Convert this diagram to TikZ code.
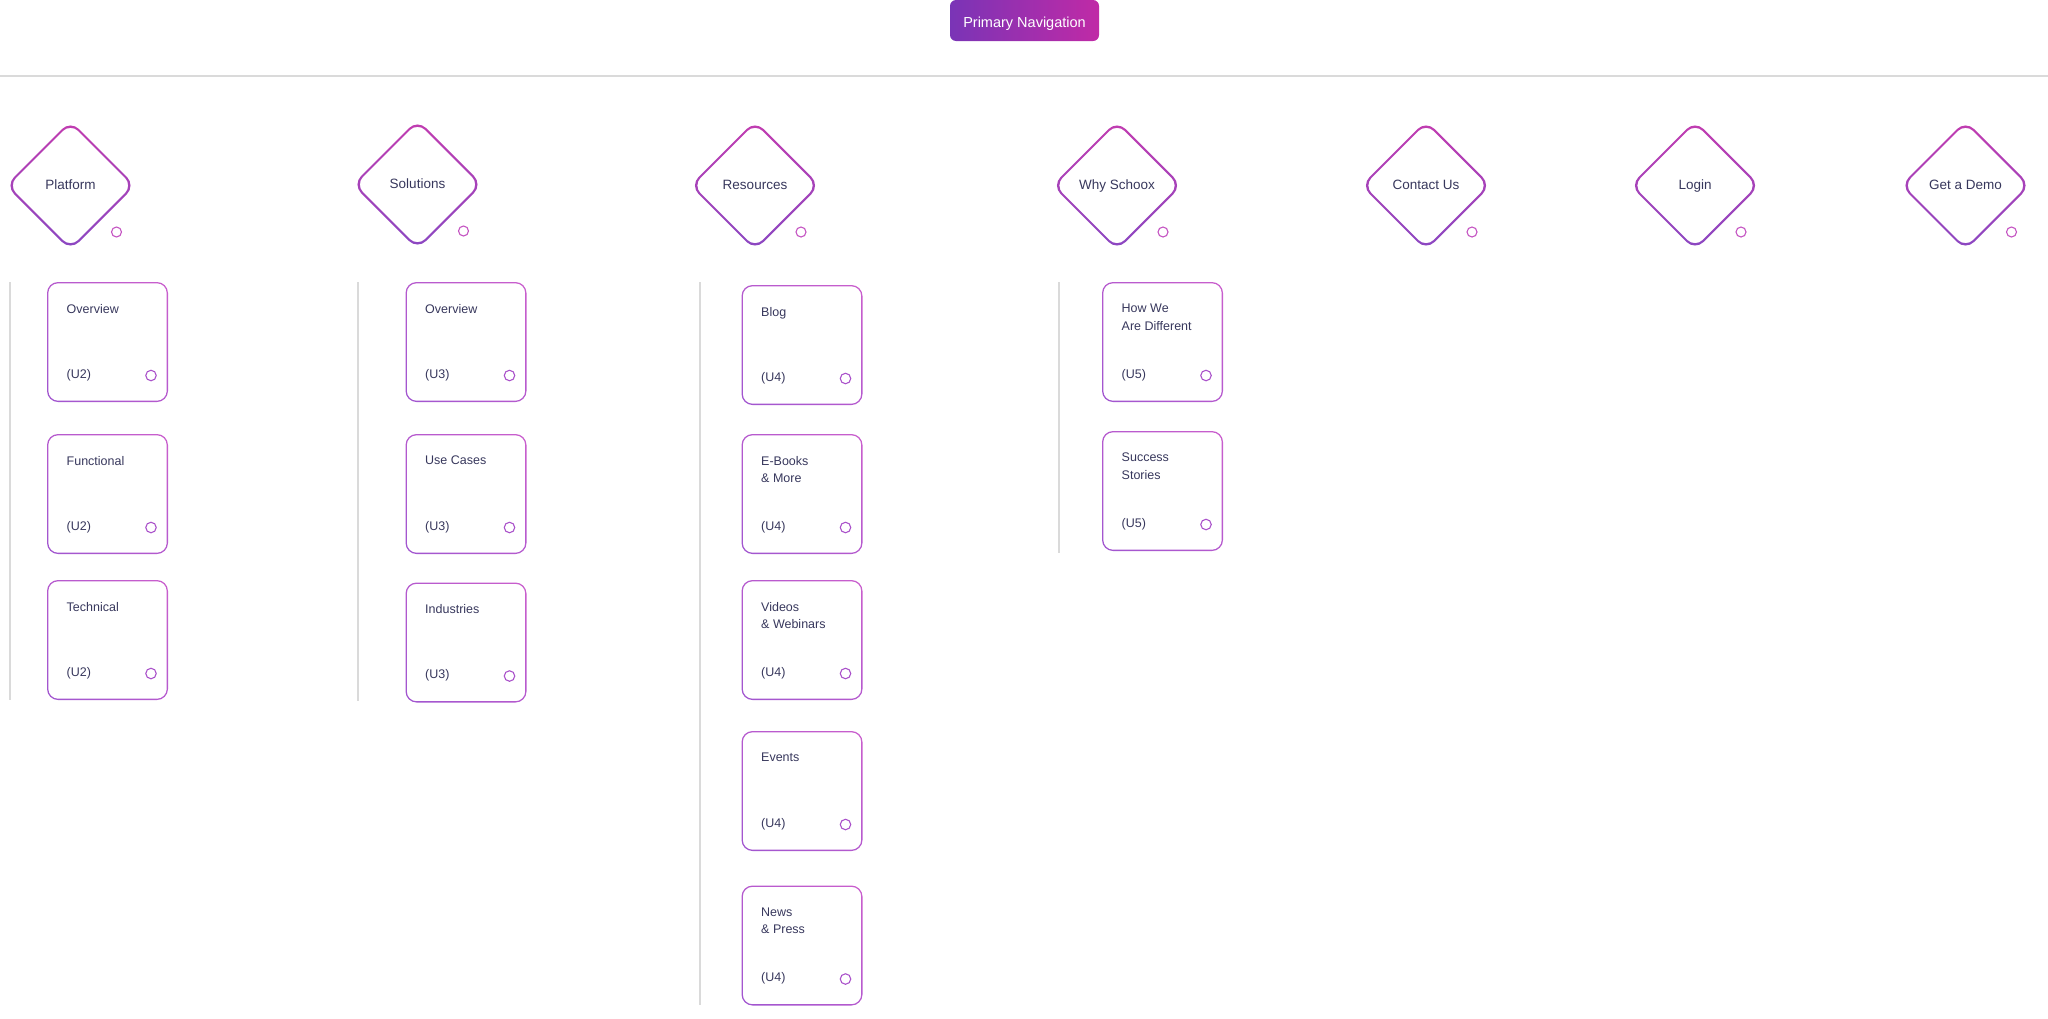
\documentclass[tikz,border=0pt]{standalone}
\usepackage{fontspec}
\setmainfont{Liberation Sans}
\usetikzlibrary{calc}
\definecolor{textc}{RGB}{55,55,92}
\definecolor{btnL}{RGB}{122,52,182}
\definecolor{btnR}{RGB}{192,42,166}
\definecolor{dTop}{RGB}{194,60,176}
\definecolor{dBot}{RGB}{138,72,194}
\definecolor{cardA}{RGB}{210,96,204}
\definecolor{cardB}{RGB}{152,84,208}
\definecolor{dotD}{RGB}{196,84,194}
\definecolor{dotC}{RGB}{170,82,202}
\definecolor{rule}{RGB}{218,218,218}
\pgfdeclarehorizontalshading{cardgrad}{100bp}{color(0bp)=(cardB); color(100bp)=(cardA)}
\tikzset{
  btn/.style={rounded corners=6pt, left color=btnL, right color=btnR,
    minimum width=149pt, minimum height=41pt, inner sep=0pt},
  btntext/.style={anchor=base, text=white, inner sep=0pt,
    font=\fontsize{14.5}{17}\selectfont},
  dtext/.style={text=textc, inner sep=0pt, text height=10.5pt, text depth=2pt,
    font=\fontsize{13.5}{16}\selectfont},
  card/.style={minimum width=121pt, minimum height=120pt, inner sep=0pt, outer sep=0pt},
  ctitle/.style={anchor=north west, align=left, text=textc, inner sep=0pt,
    font=\fontsize{12.5}{17.3}\selectfont},
  clabel/.style={anchor=base west, text=textc, inner sep=0pt,
    font=\fontsize{12.5}{15}\selectfont},
  cdot/.style={circle, draw=dotC, line width=1.1pt, minimum size=10.5pt, inner sep=0pt},
  ddot/.style={circle, draw=dotD, line width=1.1pt, minimum size=10pt, inner sep=0pt},
  sepline/.style={draw=rule, line width=2pt},
}
\newcommand\cardring[1]{%
  \shade[shading=cardgrad, shading angle=45, even odd rule]
    [rounded corners=11pt] (#1.north west) rectangle (#1.south east)
    [rounded corners=9.7pt] ($(#1.north west)+(1.3,1.3)$) rectangle ($(#1.south east)+(-1.3,-1.3)$);}
\newcommand\navcard[5]{%
  \node[card] (#1) at (#2,#3) {};
  \cardring{#1}
  \node[ctitle] (#1t) at ($(#1.north west)+(19.5,22)$) {#4};
  \node[clabel] (#1l) at ($(#1.south west)+(19.5,-24)$) {#5};
  \node[cdot] (#1o) at ($(#1.south east)+(-17,-26.5)$) {};}
\newcommand\navdiamond[4]{%
  \node[dtext] (#1) at (#2,#3) {#4};
  \shade[top color=dTop, bottom color=dBot, even odd rule]
    [rounded corners=12pt] ($(#1)+(0,-65)$) -- ($(#1)+(65,0)$) -- ($(#1)+(0,65)$) -- ($(#1)+(-65,0)$) -- cycle
    [rounded corners=11pt] ($(#1)+(0,-62.2)$) -- ($(#1)+(62.2,0)$) -- ($(#1)+(0,62.2)$) -- ($(#1)+(-62.2,0)$) -- cycle;
  \node[ddot] (#1o) at ($(#1)+(46,46.5)$) {};}
\begin{document}
\begin{tikzpicture}[x=1pt, y=-1pt]
\useasboundingbox (0,0) rectangle (2048,1018);
% top button and rule
\node[btn] (pnav) at (1024.5,20.5) {};
\node[btntext] (pnavt) at (1024.5,27.5) {Primary Navigation};
\coordinate (ruleL) at (0,76);
\coordinate (ruleR) at (2048,76);
\draw[draw=rule, line width=2pt] (ruleL) -- (ruleR);
% diamonds
\navdiamond{d1}{70.5}{185.5}{Platform}
\navdiamond{d2}{417.5}{184.5}{Solutions}
\navdiamond{d3}{755}{185.5}{Resources}
\navdiamond{d4}{1117}{185.5}{Why Schoox}
\navdiamond{d5}{1426}{185.5}{Contact Us}
\navdiamond{d6}{1695}{185.5}{Login}
\navdiamond{d7}{1965.5}{185.5}{Get a Demo}
% separator lines
\draw[sepline] (10,282) -- (10,700);
\draw[sepline] (358,282) -- (358,701);
\draw[sepline] (700,282) -- (700,1005);
\draw[sepline] (1059,282) -- (1059,553);
% Platform
\navcard{c11}{107.5}{342}{Overview}{(U2)}
\navcard{c12}{107.5}{494}{Functional}{(U2)}
\navcard{c13}{107.5}{640}{Technical}{(U2)}
% Solutions
\navcard{c21}{466}{342}{Overview}{(U3)}
\navcard{c22}{466}{494}{Use Cases}{(U3)}
\navcard{c23}{466}{642.5}{Industries}{(U3)}
% Resources
\navcard{c31}{802}{345}{Blog}{(U4)}
\navcard{c32}{802}{494}{E-Books\\\& More}{(U4)}
\navcard{c33}{802}{640}{Videos\\\& Webinars}{(U4)}
\navcard{c34}{802}{791}{Events}{(U4)}
\navcard{c35}{802}{945.5}{News\\\& Press}{(U4)}
% Why Schoox
\navcard{c41}{1162.5}{342}{How We\\Are Different}{(U5)}
\navcard{c42}{1162.5}{491}{Success\\Stories}{(U5)}
\end{tikzpicture}
\end{document}
